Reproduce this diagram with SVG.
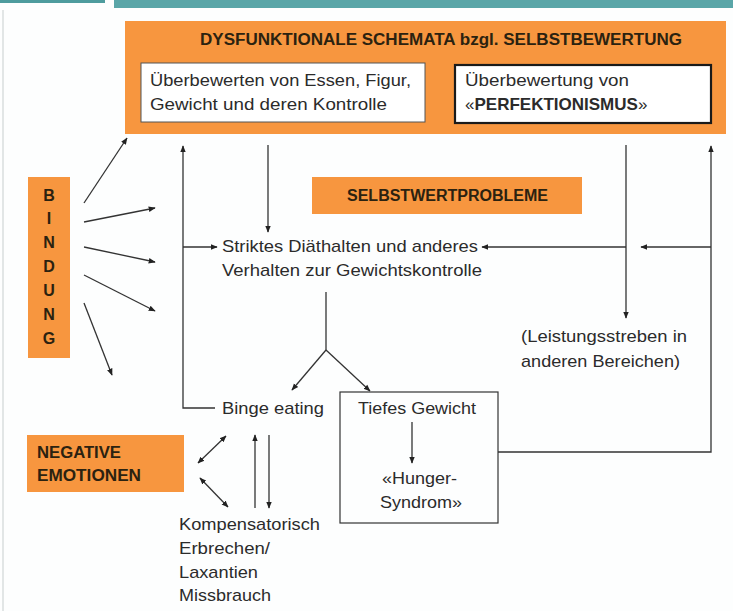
<svg xmlns="http://www.w3.org/2000/svg" width="733" height="611" viewBox="0 0 733 611">
<defs>
<style>
.t{font-family:"Liberation Sans",Arial,sans-serif;font-size:17px;fill:#2b2b2b}
.b{font-family:"Liberation Sans",Arial,sans-serif;font-size:16px;font-weight:bold;fill:#2b2210}
.orange{fill:#f7963f}
.ln{fill:none;stroke:#333;stroke-width:1.3}
.ar{fill:none;stroke:#333;stroke-width:1.3;marker-end:url(#ah)}
.ar2{fill:none;stroke:#333;stroke-width:1.3;marker-end:url(#ah);marker-start:url(#ahs)}
</style>
<marker id="ah" viewBox="0 0 10 10" refX="9" refY="5" markerWidth="7" markerHeight="7" markerUnits="userSpaceOnUse" orient="auto">
<path d="M0,1 L10,5 L0,9 z" fill="#222"/>
</marker>
<marker id="ahs" viewBox="0 0 10 10" refX="1" refY="5" markerWidth="7" markerHeight="7" markerUnits="userSpaceOnUse" orient="auto">
<path d="M10,1 L0,5 L10,9 z" fill="#222"/>
</marker>
</defs>
<rect x="0" y="0" width="733" height="611" fill="#fdfefe"/>
<rect x="0" y="0" width="105" height="3" fill="#4e9c9e"/>
<rect x="114" y="0" width="619" height="8" fill="#5aa6a8"/>
<line x1="3" y1="10" x2="3" y2="611" stroke="#e2e6e6" stroke-width="2"/>

<g id="schemata">
<rect class="orange" x="125" y="21" width="601" height="113"/>
<text class="b" x="200" y="45" textLength="482" lengthAdjust="spacingAndGlyphs">DYSFUNKTIONALE SCHEMATA bzgl.  SELBSTBEWERTUNG</text>
</g>
<g id="ueberbewerten-essen">
<rect x="141" y="63" width="284" height="59" fill="#fff" stroke="#555" stroke-width="1"/>
<text class="t" x="150" y="86" textLength="261" lengthAdjust="spacingAndGlyphs">Überbewerten von Essen, Figur,</text>
<text class="t" x="150" y="110" textLength="237" lengthAdjust="spacingAndGlyphs">Gewicht und deren Kontrolle</text>
</g>
<g id="perfektionismus">
<rect x="455" y="65" width="256" height="58" fill="#fff" stroke="#1a1a1a" stroke-width="2.2"/>
<text class="t" x="465" y="86" textLength="164" lengthAdjust="spacingAndGlyphs">Überbewertung von</text>
<text class="t" x="465" y="110" font-size="17.5">«<tspan font-weight="bold">PERFEKTIONISMUS</tspan>»</text>
</g>
<g id="selbstwertprobleme">
<rect class="orange" x="312" y="177" width="270" height="37"/>
<text class="b" x="347" y="201" textLength="201" lengthAdjust="spacingAndGlyphs">SELBSTWERTPROBLEME</text>
</g>
<g id="bindung">
<rect class="orange" x="28" y="177" width="42" height="181"/>
<text class="b" x="49" text-anchor="middle" font-size="17"><tspan x="49" y="201">B</tspan><tspan x="49" y="224">I</tspan><tspan x="49" y="248">N</tspan><tspan x="49" y="272">D</tspan><tspan x="49" y="296">U</tspan><tspan x="49" y="320">N</tspan><tspan x="49" y="344">G</tspan></text>
</g>
<g id="negative-emotionen">
<rect class="orange" x="27" y="435" width="157" height="57"/>
<text class="b" x="37" y="458" textLength="84" lengthAdjust="spacingAndGlyphs">NEGATIVE</text>
<text class="b" x="37" y="481" textLength="104" lengthAdjust="spacingAndGlyphs">EMOTIONEN</text>
</g>
<g id="diaethalten">
<text class="t" x="222" y="252" textLength="256" lengthAdjust="spacingAndGlyphs">Striktes Diäthalten und anderes</text>
<text class="t" x="222" y="276" textLength="260" lengthAdjust="spacingAndGlyphs">Verhalten zur Gewichtskontrolle</text>
</g>
<g id="leistungsstreben">
<text class="t" x="521" y="342" textLength="166" lengthAdjust="spacingAndGlyphs">(Leistungsstreben in</text>
<text class="t" x="521" y="367" textLength="159" lengthAdjust="spacingAndGlyphs">anderen Bereichen)</text>
</g>
<g id="binge-eating">
<text class="t" x="222" y="414" textLength="102" lengthAdjust="spacingAndGlyphs">Binge eating</text>
</g>
<g id="tiefes-gewicht">
<rect x="340" y="392" width="158" height="131" fill="none" stroke="#333" stroke-width="1.2"/>
<text class="t" x="358" y="414" textLength="118" lengthAdjust="spacingAndGlyphs">Tiefes Gewicht</text>
<text class="t" x="382" y="484" textLength="75" lengthAdjust="spacingAndGlyphs">«Hunger-</text>
<text class="t" x="380" y="508" textLength="82" lengthAdjust="spacingAndGlyphs">Syndrom»</text>
</g>
<g id="kompensatorisch">
<text class="t" x="179" y="530" textLength="141" lengthAdjust="spacingAndGlyphs">Kompensatorisch</text>
<text class="t" x="179" y="554" textLength="91" lengthAdjust="spacingAndGlyphs">Erbrechen/</text>
<text class="t" x="179" y="578" textLength="79" lengthAdjust="spacingAndGlyphs">Laxantien</text>
<text class="t" x="179" y="601" textLength="92" lengthAdjust="spacingAndGlyphs">Missbrauch</text>
</g>

<g id="connectors">
<line class="ar" x1="84" y1="203" x2="127" y2="138"/>
<line class="ar" x1="84" y1="222" x2="155" y2="208"/>
<line class="ar" x1="84" y1="247" x2="155" y2="262"/>
<line class="ar" x1="84" y1="275" x2="155" y2="311"/>
<line class="ar" x1="84" y1="303" x2="112" y2="375"/>
<polyline class="ar" points="215,408 183,408 183,146"/>
<line class="ar" x1="183" y1="247" x2="217" y2="247"/>
<line class="ar" x1="268" y1="145" x2="268" y2="232"/>
<polyline class="ln" points="326,292 326,350"/>
<line class="ar" x1="326" y1="350" x2="292" y2="390"/>
<line class="ar" x1="326" y1="350" x2="370" y2="391"/>
<line class="ar" x1="626" y1="145" x2="626" y2="318"/>
<line class="ar" x1="626" y1="247" x2="482" y2="247"/>
<polyline class="ar" points="498,452 711,452 711,146"/>
<line class="ar" x1="711" y1="247" x2="641" y2="247"/>
<line class="ar" x1="412" y1="422" x2="412" y2="463"/>
<line class="ar" x1="255" y1="508" x2="255" y2="435"/>
<line class="ar" x1="269" y1="435" x2="269" y2="508"/>
<line class="ar2" x1="226" y1="436" x2="198" y2="463"/>
<line class="ar2" x1="200" y1="478" x2="228" y2="507"/>
</g>
</svg>
